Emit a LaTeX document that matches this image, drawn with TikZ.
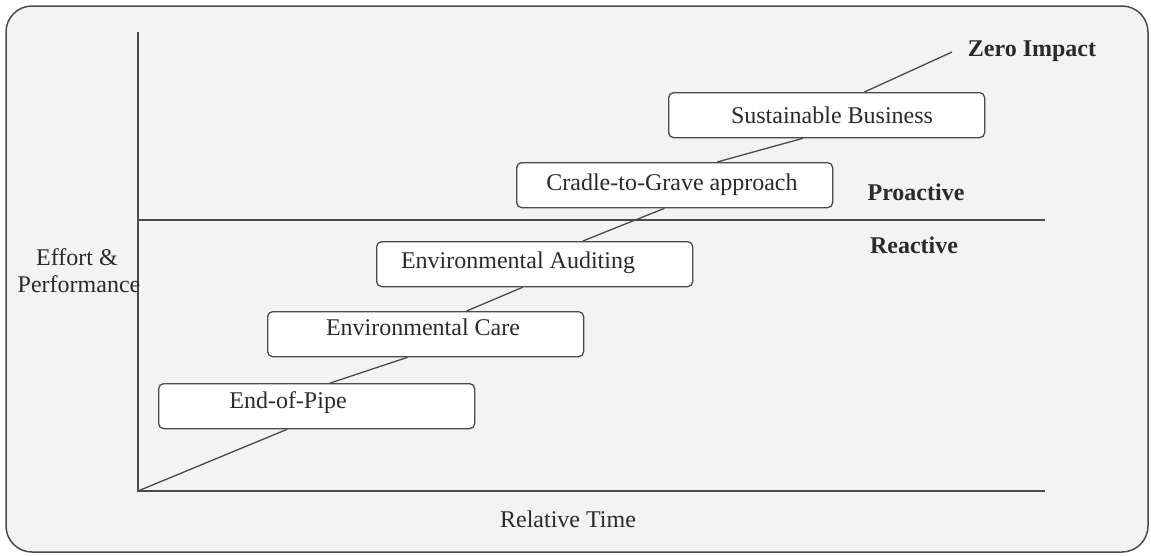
\documentclass[tikz,border=0pt]{standalone}
\usepackage{fontspec}
\setmainfont{Liberation Serif}
\usetikzlibrary{calc}
\definecolor{panel}{HTML}{F3F3F3}
\definecolor{ink}{HTML}{2A2A2A}
\definecolor{rule}{HTML}{4A4A4A}
\begin{document}
\begin{tikzpicture}[x=1pt,y=-1pt,
  every node/.style={font=\fontsize{24}{27}\selectfont, text=ink, inner sep=0pt},
  stagebox/.style={draw=rule, fill=white, line width=1.3pt, rounded corners=5pt,
    minimum width=316pt, minimum height=45pt, anchor=north west},
  stagetext/.style={anchor=base},
  zonelabel/.style={anchor=base, font=\fontsize{24}{27}\selectfont\bfseries},
  axis/.style={draw=rule, line width=1.5pt},
  link/.style={draw=rule, line width=1.3pt}]
  \useasboundingbox (0,0) rectangle (1151,555);
  % outer panel
  \draw[draw=rule, fill=panel, line width=1.5pt, rounded corners=26pt] (6,6) rectangle (1148,552);

  % axes and the proactive / reactive divider
  \coordinate (origin) at (138,491);
  \coordinate (ytop) at (138,32);
  \coordinate (xend) at (1045,491);
  \coordinate (divL) at (138,220);
  \coordinate (divR) at (1045,220);
  \draw[axis] (ytop) -- (origin) -- (xend);
  \draw[axis] (divL) -- (divR);

  % stage boxes
  \node[stagebox] (eop)    at (158,383) {};
  \node[stagebox] (care)   at (267,311) {};
  \node[stagebox] (audit)  at (376,241) {};
  \node[stagebox] (cradle) at (516,162) {};
  \node[stagebox] (sust)   at (668,92)  {};

  \node[stagetext] (eopT)    at (288,408) {End-of-Pipe};
  \node[stagetext] (careT)   at (423,335) {Environmental Care};
  \node[stagetext] (auditT)  at (518,268) {Environmental Auditing};
  \node[stagetext] (cradleT) at (672,190) {Cradle-to-Grave approach};
  \node[stagetext] (sustT)   at (832,123) {Sustainable Business};

  % labels
  \node[zonelabel] (zero)   at (1032,56)  {Zero Impact};
  \node[zonelabel] (pro)    at (916,200)  {Proactive};
  \node[zonelabel] (re)     at (914,253)  {Reactive};
  \node[anchor=base] (eff)  at (77,265)   {Effort \&};
  \node[anchor=base] (perf) at (79,292)   {Performance};
  \node[anchor=base] (time) at (568,527)  {Relative Time};

  % progression line through the stages
  \coordinate (zeroEnd) at (952,52);
  \draw[link] (origin) -- ($(eop.south west)!0.407!(eop.south east)$);
  \draw[link] ($(eop.north west)!0.543!(eop.north east)$) -- ($(care.south west)!0.443!(care.south east)$);
  \draw[link] ($(care.north west)!0.629!(care.north east)$) -- ($(audit.south west)!0.462!(audit.south east)$);
  \draw[link] ($(audit.north west)!0.652!(audit.north east)$) -- ($(cradle.south west)!0.468!(cradle.south east)$);
  \draw[link] ($(cradle.north west)!0.634!(cradle.north east)$) -- ($(sust.south west)!0.425!(sust.south east)$);
  \draw[link] ($(sust.north west)!0.619!(sust.north east)$) -- (zeroEnd);
\end{tikzpicture}
\end{document}
